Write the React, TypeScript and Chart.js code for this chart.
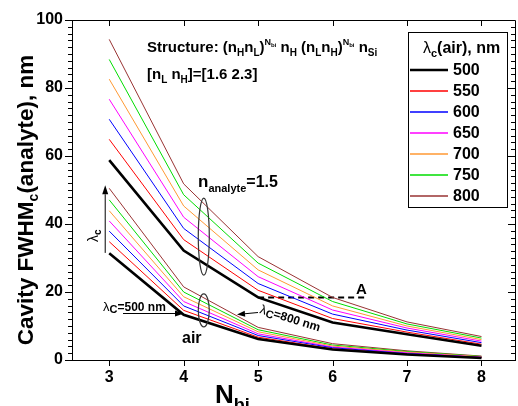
import React, { useEffect, useRef } from 'react';
import { Chart, registerables } from 'chart.js';

Chart.register(...registerables);

// ---------------- data ----------------
const nbi = [3, 4, 5, 6, 7, 8];
const wavelengthLabels = ['500', '550', '600', '650', '700', '750', '800'];

const analyte500 = [58.8, 32.2, 18.4, 11.0, 7.6, 4.2];
const analyte550 = [64.9, 35.4, 20.5, 12.2, 8.2, 4.65];
const analyte600 = [70.8, 38.7, 22.5, 13.5, 8.8, 5.1];
const analyte650 = [76.7, 42.0, 24.5, 14.7, 9.4, 5.55];
const analyte700 = [82.6, 45.3, 26.5, 15.9, 10.0, 6.0];
const analyte750 = [88.4, 48.6, 28.5, 17.2, 10.6, 6.45];
const analyte800 = [94.3, 51.8, 30.4, 18.4, 11.2, 6.9];

const air500 = [31.4, 13.3, 6.2, 3.1, 1.6, 0.6];
const air550 = [34.8, 14.6, 6.7, 3.3, 1.7, 0.7];
const air600 = [37.9, 15.9, 7.2, 3.6, 1.9, 0.75];
const air650 = [40.9, 17.2, 7.7, 3.8, 2.1, 0.85];
const air700 = [43.9, 18.6, 8.3, 4.1, 2.3, 0.95];
const air750 = [47.1, 20.0, 8.9, 4.4, 2.5, 1.05];
const air800 = [50.5, 21.5, 9.6, 4.8, 2.7, 1.15];

const markerAX = [5, 6.45];
const markerAY = [18.4, 18.4];

const xTickValues = [3, 4, 5, 6, 7, 8];
const yTickValues = [0, 20, 40, 60, 80, 100];

const analyteSeries = [analyte500, analyte550, analyte600, analyte650, analyte700, analyte750, analyte800];
const airSeries = [air500, air550, air600, air650, air700, air750, air800];

// ---------------- styles ----------------
const COLORS = ['#000000', '#ff0000', '#0000ff', '#ff00ff', '#ff9933', '#00dd00', '#993333'];
const FONT = 'Arial, "Liberation Sans", sans-serif';

type Seg = { t: string; size: number; dy?: number; bold?: boolean };

function segFont(s: Seg) {
  return `${s.bold === false ? '' : 'bold '}${s.size}px ${FONT}`;
}
function measureSegs(ctx: CanvasRenderingContext2D, segs: Seg[]) {
  let w = 0;
  for (const s of segs) {
    ctx.font = segFont(s);
    w += ctx.measureText(s.t).width;
  }
  return w;
}
function drawSegs(ctx: CanvasRenderingContext2D, x: number, y: number, segs: Seg[]) {
  let cx = x;
  ctx.textAlign = 'left';
  ctx.textBaseline = 'alphabetic';
  for (const s of segs) {
    ctx.font = segFont(s);
    ctx.fillText(s.t, cx, y + (s.dy || 0));
    cx += ctx.measureText(s.t).width;
  }
  return cx - x;
}
function drawArrow(ctx: CanvasRenderingContext2D, x1: number, y1: number, x2: number, y2: number, hl = 8, hw = 3) {
  const ang = Math.atan2(y2 - y1, x2 - x1);
  const bx = x2 - hl * Math.cos(ang);
  const by = y2 - hl * Math.sin(ang);
  ctx.beginPath();
  ctx.moveTo(x1, y1);
  ctx.lineTo(bx, by);
  ctx.stroke();
  ctx.beginPath();
  ctx.moveTo(x2, y2);
  ctx.lineTo(bx + hw * Math.sin(ang), by - hw * Math.cos(ang));
  ctx.lineTo(bx - hw * Math.sin(ang), by + hw * Math.cos(ang));
  ctx.closePath();
  ctx.fill();
}

const decorPlugin = {
  id: 'decor',
  afterDraw(chart: any) {
    const ctx: CanvasRenderingContext2D = chart.ctx;
    const { left, right, top, bottom } = chart.chartArea;
    const xs = chart.scales.x;
    const ys = chart.scales.y;
    const X = (v: number) => xs.getPixelForValue(v);
    const Y = (v: number) => ys.getPixelForValue(v);
    ctx.save();
    ctx.fillStyle = '#000';
    ctx.strokeStyle = '#000';
    ctx.lineWidth = 1;

    // frame (top & right)
    ctx.beginPath();
    ctx.moveTo(left, top + 0.5);
    ctx.lineTo(right + 0.5, top + 0.5);
    ctx.lineTo(right + 0.5, bottom);
    ctx.stroke();

    // y ticks (left outward, right inward)
    for (let v = 0; v <= 100; v += 2) {
      const py = Math.round(Y(v)) + 0.5;
      const major = v % 20 === 0;
      const len = major ? 7 : 4;
      ctx.beginPath();
      ctx.moveTo(left, py);
      ctx.lineTo(left - len, py);
      ctx.moveTo(right, py);
      ctx.lineTo(right - len, py);
      ctx.stroke();
    }
    // x ticks (bottom outward, top inward)
    for (const v of xTickValues) {
      const px = Math.round(X(v)) + 0.5;
      ctx.beginPath();
      ctx.moveTo(px, bottom);
      ctx.lineTo(px, bottom + 6);
      ctx.moveTo(px, top);
      ctx.lineTo(px, top + 6);
      ctx.stroke();
    }

    // axis titles
    ctx.save();
    const ySegs: Seg[] = [
      { t: 'Cavity FWHM', size: 22.5 },
      { t: 'c', size: 14, dy: 5 },
      { t: '(analyte), nm', size: 22.5 },
    ];
    const yw = measureSegs(ctx, ySegs);
    ctx.translate(33, (top + bottom) / 2 + 10);
    ctx.rotate(-Math.PI / 2);
    drawSegs(ctx, -yw / 2, 0, ySegs);
    ctx.restore();
    drawSegs(ctx, 215, 403, [
      { t: 'N', size: 26 },
      { t: 'bi', size: 18, dy: 8 },
    ]);

    // structure text
    const sub = (t: string): Seg => ({ t, size: 10, dy: 4 });
    const supN: Seg = { t: 'N', size: 9, dy: -7 };
    const supBi: Seg = { t: 'bi', size: 6, dy: -5 };
    drawSegs(ctx, 147, 52, [
      { t: 'Structure: (n', size: 15 }, sub('H'), { t: 'n', size: 15 }, sub('L'), { t: ')', size: 15 },
      supN, supBi,
      { t: ' n', size: 15 }, sub('H'), { t: ' (n', size: 15 }, sub('L'), { t: 'n', size: 15 }, sub('H'), { t: ')', size: 15 },
      supN, supBi,
      { t: ' n', size: 15 }, sub('Si'),
    ]);
    drawSegs(ctx, 147, 79, [
      { t: '[n', size: 15 }, sub('L'), { t: ' n', size: 15 }, sub('H'), { t: ']=[1.6 2.3]', size: 15 },
    ]);

    // n_analyte label
    drawSegs(ctx, 198, 187, [
      { t: 'n', size: 17 },
      { t: 'analyte', size: 11, dy: 5 },
      { t: '=1.5', size: 16 },
    ]);
    // air label
    drawSegs(ctx, 182, 343, [{ t: 'air', size: 16 }]);
    // A label
    drawSegs(ctx, 356, 294, [{ t: 'A', size: 15 }]);

    // ellipses
    ctx.strokeStyle = '#333';
    ctx.lineWidth = 1.2;
    ctx.beginPath();
    ctx.ellipse(X(4.27), Y(36.3), 5.5, 38.5, 0, 0, Math.PI * 2);
    ctx.stroke();
    ctx.beginPath();
    ctx.ellipse(X(4.27), Y(14.6), 5.5, 16.5, 0, 0, Math.PI * 2);
    ctx.stroke();

    // vertical lambda arrow
    ctx.strokeStyle = '#000';
    ctx.lineWidth = 1;
    drawArrow(ctx, X(2.946), Y(31.5), X(2.946), Y(51.4), 9, 3);
    ctx.save();
    ctx.translate(98, 242);
    ctx.rotate(-Math.PI / 2);
    drawSegs(ctx, 0, 0, [
      { t: 'λ', size: 14, bold: false },
      { t: 'c', size: 10, dy: 3 },
    ]);
    ctx.restore();

    // lambda_c = 500 nm
    drawSegs(ctx, 103, 311, [
      { t: 'λ', size: 13, bold: false },
      { t: 'C', size: 11, dy: 2 },
      { t: '=500 nm', size: 12 },
    ]);
    drawArrow(ctx, 123, 313.5, 184, 313.5, 9, 3);

    // lambda_c = 800 nm (rotated)
    ctx.save();
    ctx.translate(259, 313);
    ctx.rotate((17 * Math.PI) / 180);
    drawSegs(ctx, 0, 0, [
      { t: 'λ', size: 13, bold: false },
      { t: 'C', size: 11, dy: 2 },
      { t: '=800 nm', size: 12 },
    ]);
    ctx.restore();
    drawArrow(ctx, 258, 312.5, 237, 314.5, 8, 3);

    // legend
    const lx = 408, ly = 32, lw = 99, lh = 175;
    ctx.fillStyle = '#fff';
    ctx.fillRect(lx, ly, lw, lh);
    ctx.strokeStyle = '#000';
    ctx.lineWidth = 1;
    ctx.strokeRect(lx + 0.5, ly + 0.5, lw, lh);
    ctx.fillStyle = '#000';
    drawSegs(ctx, 423, 53, [
      { t: 'λ', size: 16, bold: false },
      { t: 'c', size: 11, dy: 4 },
      { t: '(air), nm', size: 16 },
    ]);
    const items = chart.data.datasets.filter((d: any) => d.inLegend);
    items.forEach((d: any, i: number) => {
      const cy = 70 + i * 21;
      ctx.strokeStyle = d.borderColor;
      ctx.lineWidth = d.borderWidth > 2 ? d.borderWidth : 1.6;
      ctx.beginPath();
      ctx.moveTo(410, cy);
      ctx.lineTo(448, cy);
      ctx.stroke();
      ctx.fillStyle = '#000';
      ctx.font = `bold 16px ${FONT}`;
      ctx.textBaseline = 'middle';
      ctx.fillText(d.label, 453, cy + 1);
      ctx.textBaseline = 'alphabetic';
    });

    ctx.restore();
  },
};

export default function App() {
  const ref = useRef<HTMLCanvasElement>(null);
  useEffect(() => {
    if (!ref.current) return;
    const datasets: any[] = [];
    wavelengthLabels.forEach((lab, i) => {
      datasets.push({
        label: lab,
        inLegend: true,
        data: nbi.map((x, j) => ({ x, y: analyteSeries[i][j] })),
        borderColor: COLORS[i],
        borderWidth: i === 0 ? 2.6 : 1,
        pointRadius: 0,
        fill: false,
        tension: 0,
      });
    });
    wavelengthLabels.forEach((lab, i) => {
      datasets.push({
        label: lab + ' air',
        inLegend: false,
        data: nbi.map((x, j) => ({ x, y: airSeries[i][j] })),
        borderColor: COLORS[i],
        borderWidth: i === 0 ? 2.6 : 1,
        pointRadius: 0,
        fill: false,
        tension: 0,
      });
    });
    datasets.push({
      label: 'A',
      inLegend: false,
      data: markerAX.map((x, j) => ({ x, y: markerAY[j] })),
      borderColor: '#000',
      borderWidth: 2,
      borderDash: [6, 4],
      pointRadius: 0,
      fill: false,
    });

    const tickFont = { family: FONT, size: 16, weight: 'bold' as const };
    const chart = new Chart(ref.current, {
      type: 'line',
      data: { datasets },
      options: {
        animation: false,
        responsive: false,
        devicePixelRatio: 1,
        layout: { padding: { top: 20, right: 3, left: 0, bottom: 0 } },
        plugins: { legend: { display: false }, tooltip: { enabled: false } },
        scales: {
          x: {
            type: 'linear',
            min: 2.5,
            max: 8.45,
            afterBuildTicks: (s: any) => {
              s.ticks = xTickValues.map((v) => ({ value: v }));
            },
            afterFit: (s: any) => {
              s.height = 46;
            },
            ticks: { font: tickFont, color: '#000', padding: 8, autoSkip: false, maxRotation: 0 },
            grid: { display: false, drawTicks: false },
            border: { display: true, color: '#000', width: 1 },
          },
          y: {
            type: 'linear',
            min: 0,
            max: 100,
            afterBuildTicks: (s: any) => {
              s.ticks = yTickValues.map((v) => ({ value: v }));
            },
            afterFit: (s: any) => {
              s.width = 72;
            },
            ticks: { font: tickFont, color: '#000', padding: 9, autoSkip: false },
            grid: { display: false, drawTicks: false },
            border: { display: true, color: '#000', width: 1 },
          },
        },
      },
      plugins: [decorPlugin],
    } as any);
    return () => chart.destroy();
  }, []);
  return (
    <div style={{ position: 'fixed', left: 0, top: 0, width: 518, height: 406, background: '#fff' }}>
      <canvas ref={ref} width={518} height={406} style={{ display: 'block' }} />
    </div>
  );
}
